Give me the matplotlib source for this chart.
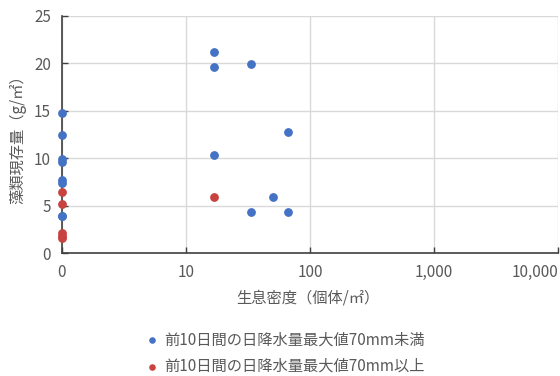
import matplotlib
matplotlib.use('Agg')
import matplotlib.pyplot as plt
import numpy as np
from matplotlib.ticker import FixedLocator, FixedFormatter, NullLocator

plt.rcParams['font.family'] = ['Noto Sans CJK JP', 'DejaVu Sans']

# density (individuals / m2), algae standing crop (g/m2)
blue_density = [0, 0, 0, 0, 0, 0, 0, 0, 16.7, 16.7, 16.7, 33.3, 33.3, 50, 66.7, 66.7]
blue_algae = [14.8, 12.5, 9.9, 9.6, 7.7, 7.4, 3.9, 3.9, 21.2, 19.6, 10.3, 19.9, 4.3, 5.9, 12.8, 4.3]
red_density = [0, 0, 0, 0, 0, 16.7]
red_algae = [6.4, 5.2, 2.1, 1.8, 1.6, 5.9]

blue_label = '前10日間の日降水量最大値70mm未満'
red_label = '前10日間の日降水量最大値70mm以上'
xtick_vals = [1, 10, 100, 1000, 10000]
xtick_labels = ['0', '10', '100', '1,000', '10,000']
ytick_vals = [0, 5, 10, 15, 20, 25]

blue_c = '#4472C4'
red_c = '#C8423F'
txt_c = '#595959'

# zero density sits on the left edge of the log axis
def floor0(v):
    v = np.asarray(v, dtype=float)
    return np.where(v <= 0, 1.0, v)

fig = plt.figure(figsize=(5.6, 3.76), dpi=100)
ax = fig.add_axes([62/560, 1 - 253/376, (558 - 62)/560, (253 - 16)/376])

ax.scatter(floor0(blue_density), blue_algae, s=28, c=blue_c, zorder=3, label=blue_label, clip_on=False)
ax.scatter(floor0(red_density), red_algae, s=28, c=red_c, zorder=3, label=red_label, clip_on=False)

ax.set_xscale('log')
ax.set_xlim(1, 10000)
ax.set_ylim(0, 25)
ax.xaxis.set_major_locator(FixedLocator(xtick_vals))
ax.xaxis.set_major_formatter(FixedFormatter(xtick_labels))
ax.xaxis.set_minor_locator(NullLocator())
ax.set_yticks(ytick_vals)

ax.grid(True, color='#d9d9d9', linewidth=1)
ax.set_axisbelow(True)
for s in ['top', 'right']:
    ax.spines[s].set_visible(False)
for s in ['left', 'bottom']:
    ax.spines[s].set_color('#404040')
    ax.spines[s].set_linewidth(1.2)
ax.tick_params(axis='both', direction='in', length=4, width=1, color='#404040',
               labelcolor=txt_c, labelsize=11)
ax.tick_params(axis='x', pad=8)
ax.tick_params(axis='y', pad=8)
# keep the last label inside the figure
ax.get_xticklabels()[-1].set_horizontalalignment('right')

fig.text(308/560, 1 - 298/376, '生息密度（個体/㎡）', ha='center', va='center', fontsize=11, color=txt_c)
fig.text(18/560, 1 - 136/376, '藻類現存量（g/㎡）', ha='center', va='center', rotation=90, fontsize=11, color=txt_c)

fig.legend(loc='center', bbox_to_anchor=(281/560, 1 - 353/376), frameon=False, fontsize=11,
           labelcolor=txt_c, handletextpad=-0.2, markerscale=0.7, labelspacing=0.6, borderpad=0)

fig.savefig('out.png', dpi=100)
